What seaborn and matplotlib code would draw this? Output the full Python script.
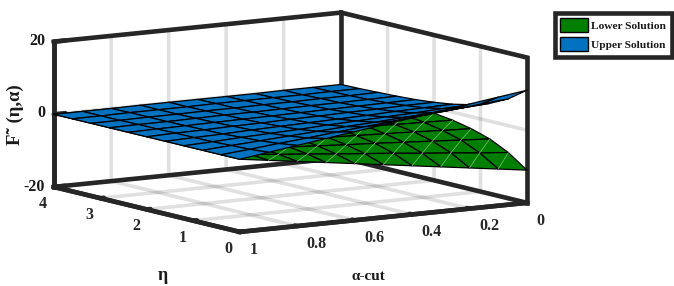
import numpy as np
import matplotlib
matplotlib.use("Agg")
import matplotlib.pyplot as plt
import seaborn as sns
from matplotlib.patches import Patch

alpha_cut = [0, 0.1, 0.2, 0.3, 0.4, 0.5, 0.6, 0.7, 0.8, 0.9, 1]
eta = [0, 0.4, 0.8, 1.2, 1.6, 2, 2.4, 2.8, 3.2, 3.6, 4]

# upper solution, one row per eta
upper_rows = [
    [11.0, 9.9, 8.8, 7.7, 6.6, 5.5, 4.4, 3.3, 2.2, 1.1, 0],
    [7.4, 6.7, 5.9, 5.2, 4.4, 3.7, 3.0, 2.2, 1.5, 0.7, 0],
    [4.9, 4.4, 3.9, 3.4, 2.9, 2.5, 2.0, 1.5, 1.0, 0.5, 0],
    [3.3, 3.0, 2.6, 2.3, 2.0, 1.7, 1.3, 1.0, 0.7, 0.3, 0],
    [2.2, 2.0, 1.8, 1.5, 1.3, 1.1, 0.9, 0.7, 0.4, 0.2, 0],
    [1.5, 1.4, 1.2, 1.1, 0.9, 0.8, 0.6, 0.5, 0.3, 0.2, 0],
    [1.0, 0.9, 0.8, 0.7, 0.6, 0.5, 0.4, 0.3, 0.2, 0.1, 0],
    [0.7, 0.6, 0.5, 0.5, 0.4, 0.3, 0.3, 0.2, 0.1, 0.1, 0],
    [0.5, 0.4, 0.4, 0.3, 0.3, 0.2, 0.2, 0.1, 0.1, 0, 0],
    [0.3, 0.3, 0.2, 0.2, 0.2, 0.2, 0.1, 0.1, 0.1, 0, 0],
    [0.2, 0.2, 0.2, 0.1, 0.1, 0.1, 0.1, 0.1, 0, 0, 0],
]
# lower solution mirrors the upper one
lower_rows = [[-v for v in row] for row in upper_rows]

alpha_ticks = [0, 0.2, 0.4, 0.6, 0.8, 1]
alpha_ticklabels = ["0", "0.2", "0.4", "0.6", "0.8", "1"]
eta_ticks = [0, 1, 2, 3, 4]
z_ticks = [-20, 0, 20]
z_ticklabels = ["-20", "0", "20"]

GREEN = "#007f00"
BLUE = "#0072c0"
DARK = "#262626"
BOX_LW = 3.3

sns.set_theme(style="whitegrid", rc={
    "grid.color": "#0000001f",
    "grid.linewidth": 2.6,
    "xtick.color": DARK,
    "ytick.color": DARK,
    "text.color": "#1a1a1a",
    "axes.labelcolor": "#1a1a1a",
    "xtick.major.width": 3.3,
    "ytick.major.width": 3.3,
    "axes.unicode_minus": False,
})
plt.rcParams["font.family"] = ["Liberation Serif", "DejaVu Serif"]
plt.rcParams["font.weight"] = "bold"

fig = plt.figure(figsize=(6.74, 2.86), dpi=100)
ax = fig.add_axes([-0.0775, -0.172, 1.0, 1.45], projection="3d", proj_type="ortho",
                  computed_zorder=False)
ax.view_init(elev=9, azim=-122.9)
ax.set_box_aspect((342, 342, 147), zoom=1.184)

A, E = np.meshgrid(alpha_cut, eta)
upper = np.array(upper_rows)
lower = np.array(lower_rows)

# thick outline of the box, drawn over the grid lines that sit on the same edges
box_edges = [
    ([0, 0], [4, 4], [-20, 20]),
    ([1, 1], [4, 4], [-20, 20]),
    ([0, 0], [0, 0], [-20, 20]),
    ([1, 0], [4, 4], [20, 20]),
    ([0, 0], [4, 0], [20, 20]),
    ([1, 0], [4, 4], [-20, -20]),
    ([0, 0], [4, 0], [-20, -20]),
    ([1, 0], [0, 0], [-20, -20]),
    ([1, 1], [4, 0], [-20, -20]),
]
for xs, ys, zs in box_edges:
    edge, = ax.plot(xs, ys, zs, color=DARK, lw=BOX_LW, zorder=1, solid_capstyle="projecting")
    edge.set_clip_on(False)

low = ax.plot_surface(A, E, lower, color=GREEN, edgecolor="black", linewidth=0.9,
                      shade=False, rstride=1, cstride=1, zorder=2)
low.set_clip_on(False)
# pale triangle diagonals on the green sheet
for i in range(len(eta) - 1):
    for j in range(1, len(alpha_cut)):
        diag, = ax.plot([alpha_cut[j], alpha_cut[j - 1]], [eta[i], eta[i + 1]],
                        [lower_rows[i][j], lower_rows[i + 1][j - 1]],
                        color="#7cc47c", lw=0.5, zorder=3)
        diag.set_clip_on(False)
up = ax.plot_surface(A, E, upper, color=BLUE, edgecolor="black", linewidth=0.9,
                     shade=False, rstride=1, cstride=1, zorder=4)
up.set_clip_on(False)

ax.set_xlim(1, 0, view_margin=0)
ax.set_ylim(0, 4, view_margin=0)
ax.set_zlim(-20, 20, view_margin=0)
ax.set_xticks(alpha_ticks)
ax.set_xticklabels(alpha_ticklabels)
ax.set_yticks(eta_ticks)
ax.set_zticks(z_ticks)
ax.set_zticklabels([])

for axis in (ax.xaxis, ax.yaxis, ax.zaxis):
    axis.pane.set_facecolor("white")
    axis.pane.set_edgecolor(DARK)
    axis.line.set_color(DARK)
    axis.line.set_linewidth(BOX_LW)
    axis._axinfo["tick"]["inward_factor"] = 0
    axis._axinfo["tick"]["outward_factor"] = 0.16
ax.zaxis._axinfo["tick"]["outward_factor"] = 0.5

ax.tick_params(axis="both", labelsize=11.5, pad=0)
for lab in ax.get_xticklabels() + ax.get_yticklabels():
    lab.set_ha("left")

# z labels placed by hand, 3d tick labels sit a few px off
for lab, py in zip(z_ticklabels, [187, 113, 41]):
    fig.text(45 / 674, 1 - py / 286, lab, fontsize=11.5, ha="right", va="center")

fig.text(163 / 674, 1 - 275 / 286, "η", fontsize=13, ha="center", va="center")
fig.text(368 / 674, 1 - 276 / 286, "α-cut", fontsize=11, ha="center", va="center")
fig.text(15 / 674, 1 - 115 / 286, "F˜ (η,α)", fontsize=13.5, rotation=90,
         ha="center", va="center")

handles = [Patch(facecolor=GREEN, edgecolor="black", label="Lower Solution"),
           Patch(facecolor=BLUE, edgecolor="black", label="Upper Solution")]
leg = fig.legend(handles=handles, loc="upper left",
                 bbox_to_anchor=(554.5 / 674, 1 - 12.5 / 286),
                 fontsize=8.2, frameon=True, fancybox=False, framealpha=1,
                 edgecolor=DARK, borderpad=0.5, handlelength=2.45, handleheight=1.5,
                 handletextpad=0.25, labelspacing=0.45, borderaxespad=0)
leg.get_frame().set_linewidth(BOX_LW)

fig.savefig("out.png", dpi=100)
